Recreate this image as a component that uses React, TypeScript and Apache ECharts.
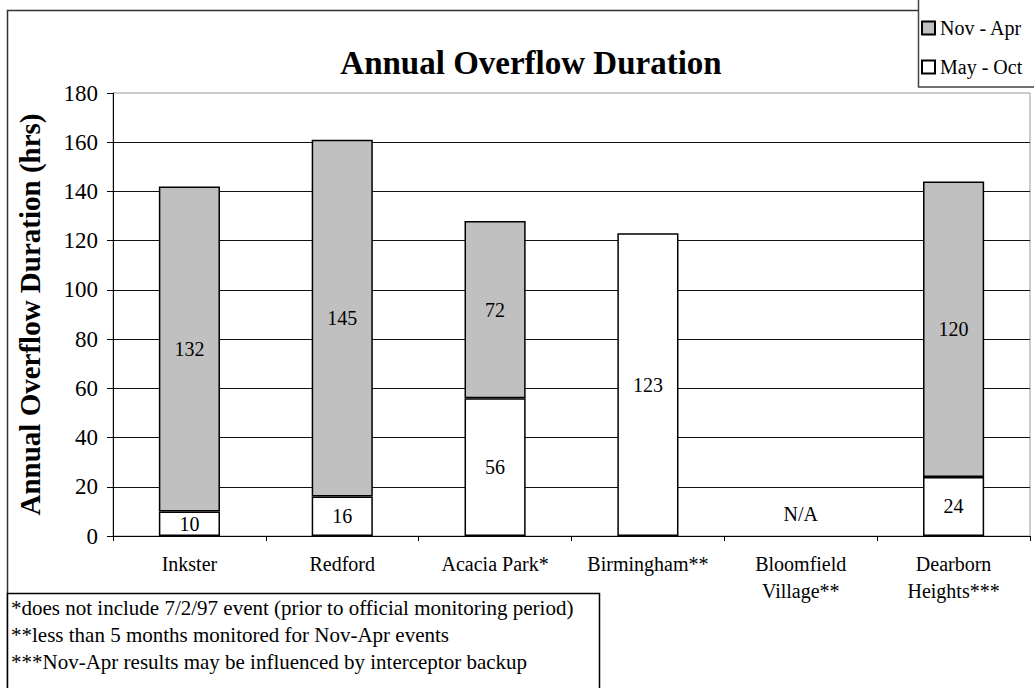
import React, { useEffect, useRef } from "react";
import * as echarts from "echarts";

// Monitoring sites (x-axis categories)
const sites = [
  "Inkster",
  "Redford",
  "Acacia Park*",
  "Birmingham**",
  "Bloomfield\nVillage**",
  "Dearborn\nHeights***",
];

// Overflow hours per season; null where nothing was recorded
const mayOct: (number | null)[] = [10, 16, 56, 123, null, 24];
const novApr: (number | null)[] = [132, 145, 72, null, null, 120];

// Sites with no data at all get a text marker
const noDataLabel = "N/A";

const yTicks = { min: 0, max: 180, interval: 20 };

const footnotes = [
  "*does not include 7/2/97 event (prior to official monitoring period)",
  "**less than 5 months monitored for Nov-Apr events",
  "***Nov-Apr results may be influenced by interceptor backup",
];

const FONT = "'Liberation Serif', 'Times New Roman', 'DejaVu Serif', serif";

export default function App() {
  const ref = useRef<HTMLDivElement>(null);

  useEffect(() => {
    document.body.style.margin = "0";
    if (!ref.current) return;
    const chart = echarts.init(ref.current, null, { renderer: "svg" });

    const mayOctData = mayOct.map((v, i) =>
      v === null && novApr[i] === null
        ? {
            value: 0,
            itemStyle: { borderWidth: 0 },
            label: {
              show: true,
              position: "top",
              distance: 12,
              formatter: noDataLabel,
            },
          }
        : v
    );

    const barLabel = {
      show: true,
      position: "inside",
      color: "#000",
      fontFamily: FONT,
      fontSize: 20,
      formatter: (p: any) => (p.value ? String(p.value) : ""),
    };

    chart.setOption({
      animation: false,
      backgroundColor: "#fff",
      textStyle: { fontFamily: FONT, color: "#000" },
      title: {
        text: "Annual Overflow Duration",
        left: 526,
        top: 41,
        textAlign: "center",
        textStyle: {
          fontFamily: FONT,
          fontSize: 33,
          fontWeight: "bold",
          color: "#000",
        },
      },
      legend: {
        data: ["Nov - Apr", "May - Oct"],
        orient: "vertical",
        left: 921,
        top: 18,
        z: 20,
        itemWidth: 13,
        itemHeight: 13,
        itemGap: 19,
        padding: 0,
        textStyle: { fontFamily: FONT, fontSize: 20, color: "#000" },
        icon: "rect",
      },
      grid: {
        left: 113,
        right: 4,
        top: 93,
        bottom: 152,
        show: true,
        borderColor: "#999",
        borderWidth: 1,
      },
      xAxis: {
        type: "category",
        data: sites,
        axisLine: { lineStyle: { color: "#000", width: 1 } },
        axisTick: { show: true, length: 5, lineStyle: { color: "#000" } },
        axisLabel: {
          fontFamily: FONT,
          fontSize: 20,
          color: "#000",
          margin: 14,
          lineHeight: 27,
          interval: 0,
        },
      },
      yAxis: {
        type: "value",
        min: yTicks.min,
        max: yTicks.max,
        interval: yTicks.interval,
        name: "Annual Overflow Duration (hrs)",
        nameLocation: "middle",
        nameGap: 69,
        nameRotate: 90,
        nameTextStyle: {
          fontFamily: FONT,
          fontSize: 29,
          fontWeight: "bold",
          color: "#000",
        },
        axisLine: { show: true, lineStyle: { color: "#000", width: 1 } },
        axisTick: { show: true, length: 6, lineStyle: { color: "#000" } },
        axisLabel: {
          fontFamily: FONT,
          fontSize: 23,
          color: "#000",
          margin: 15,
        },
        splitLine: {
          show: true,
          showMaxLine: false,
          lineStyle: { color: "#111", width: 1 },
        },
      },
      series: [
        {
          name: "May - Oct",
          type: "bar",
          stack: "total",
          barWidth: "40%",
          data: mayOctData,
          itemStyle: { color: "#ffffff", borderColor: "#000", borderWidth: 1.5 },
          label: barLabel,
        },
        {
          name: "Nov - Apr",
          type: "bar",
          stack: "total",
          barWidth: "40%",
          data: novApr,
          itemStyle: { color: "#c0c0c0", borderColor: "#000", borderWidth: 1.5 },
          label: barLabel,
        },
      ],
      graphic: [
        // outer frame of the chart
        {
          type: "rect",
          z: 3,
          silent: true,
          shape: { x: 7.5, y: 10.5, width: 1100, height: 760 },
          style: { fill: "none", stroke: "#333", lineWidth: 1.5 },
        },
        // legend frame
        {
          type: "rect",
          z: 5,
          silent: true,
          shape: { x: 918.5, y: -2, width: 140, height: 89 },
          style: { fill: "#fff", stroke: "#444", lineWidth: 1.5 },
        },
        // footnote box
        {
          type: "group",
          z: 5,
          children: [
            {
              type: "rect",
              z: 5,
              shape: { x: 7.5, y: 593.5, width: 592, height: 120 },
              style: { fill: "#fff", stroke: "#000", lineWidth: 1.5 },
            },
            ...footnotes.map((t, i) => ({
              type: "text",
              z: 6,
              x: 11,
              y: 608 + i * 27,
              style: {
                text: t,
                fontFamily: FONT,
                fontSize: 21,
                fill: "#000",
                verticalAlign: "middle",
              },
            })),
          ],
        },
      ],
    });

    return () => chart.dispose();
  }, []);

  return <div ref={ref} style={{ width: 1034, height: 688 }} />;
}
